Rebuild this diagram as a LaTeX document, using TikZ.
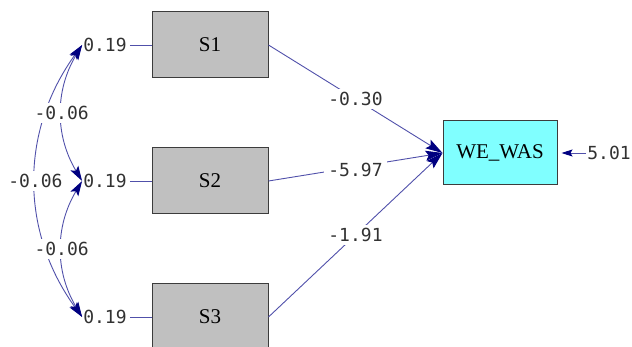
\documentclass[tikz,border=0pt]{standalone}
\usepackage{fontspec}
\setmainfont{Liberation Serif}
\newfontfamily\coeffont{DejaVu Sans Mono}
\usetikzlibrary{positioning,arrows.meta}
\definecolor{boxgray}{RGB}{192,192,192}
\definecolor{edgegray}{RGB}{60,60,60}
\definecolor{wecyan}{RGB}{128,255,255}
\definecolor{pathblue}{RGB}{80,80,170}
\definecolor{tipnavy}{RGB}{0,0,128}
\definecolor{numgray}{RGB}{50,50,50}
\tikzstyle{obsbox} = [draw=edgegray, fill=boxgray, line width=1pt, minimum width=116pt, minimum height=66pt, inner sep=0pt, font=\fontsize{21}{24}\selectfont]
\tikzstyle{depbox} = [obsbox, fill=wecyan, minimum width=114pt, minimum height=64pt]
\tikzstyle{coef} = [fill=white, text=numgray, font=\coeffont\fontsize{18}{20}\selectfont, inner xsep=4pt, inner ysep=3pt]
\tikzstyle{errlabel} = [text=numgray, font=\coeffont\fontsize{18}{20}\selectfont, inner sep=1pt]
\tikzstyle{pathline} = [pathblue, line width=0.9pt, -{Stealth[length=17pt,width=10pt,inset=3pt,color=tipnavy]}]
\tikzstyle{covline} = [pathblue, line width=0.9pt, {Stealth[length=15pt,width=9pt,inset=3pt,color=tipnavy]}-{Stealth[length=15pt,width=9pt,inset=3pt,color=tipnavy]}]

\begin{document}
\begin{tikzpicture}[x=1pt,y=-1pt]
      \useasboundingbox (0,0) rectangle (632,347);
      % observed variables
      \node[obsbox] (s1) at (210,45) {S1};
      \node[obsbox] (s2) at (210,181) {S2};
      \node[obsbox] (s3) at (210,317) {S3};
      \node[depbox] (we) at (500,153) {WE\_WAS};

      % error variances
      \node[errlabel] (e1) at (105,45) {0.19};
      \node[errlabel] (e2) at (105,181) {0.19};
      \node[errlabel] (e3) at (105,317) {0.19};
      \node[errlabel] (ew) at (609,153) {5.01};
      \draw[pathblue, line width=0.9pt, shorten <=2pt] (e1) -- (s1);
      \draw[pathblue, line width=0.9pt, shorten <=2pt] (e2) -- (s2);
      \draw[pathblue, line width=0.9pt, shorten <=2pt] (e3) -- (s3);
      \draw[pathblue, line width=0.9pt, shorten >=4pt, -{Stealth[length=11pt,width=7pt,inset=2pt,color=tipnavy]}] (ew) -- (we);

      % paths
      \draw[pathline] (s1.east) -- node[coef] {-0.30} (we.west);
      \draw[pathline] (s2.east) -- node[coef, yshift=-3pt] {-5.97} (we.west);
      \draw[pathline] (s3.east) -- node[coef] {-1.91} (we.west);

      % covariances (outer one first, so the inner labels lie over it)
      \draw[covline] (e1.west) to[bend right=36] node[coef] {-0.06} (e3.west);
      \draw[covline] (e1.west) to[bend right=31] node[coef] {-0.06} (e2.west);
      \draw[covline] (e2.west) to[bend right=31] node[coef] {-0.06} (e3.west);
    \end{tikzpicture}
\end{document}
